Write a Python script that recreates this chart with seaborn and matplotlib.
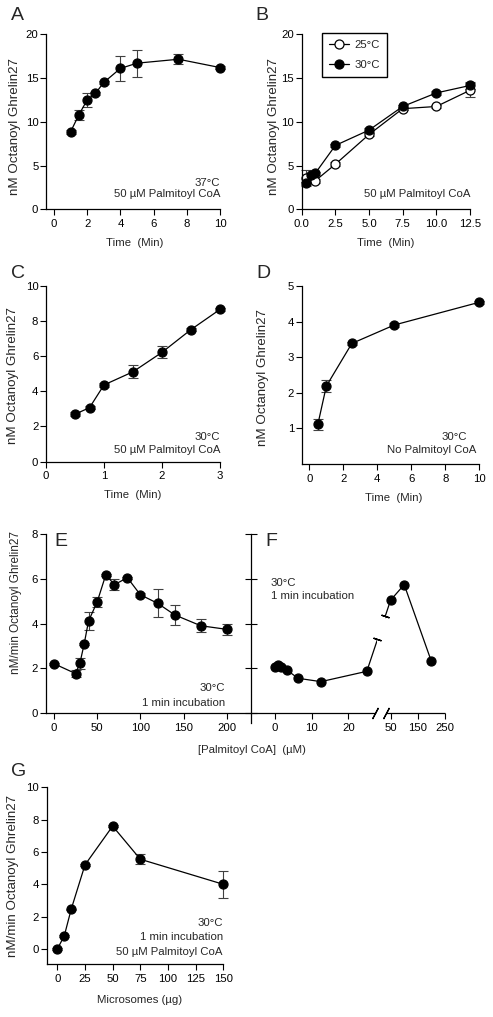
import numpy as np
import matplotlib
matplotlib.use("Agg")
import matplotlib.pyplot as plt
import seaborn as sns

sns.set_theme(style="ticks")
plt.rcParams["font.family"] = ["Liberation Sans", "DejaVu Sans"]

# ---- data ----
A_time = [1, 1.5, 2, 2.5, 3, 4, 5, 7.5, 10]
A_val = [8.85, 10.8, 12.5, 13.25, 14.5, 16.1, 16.7, 17.15, 16.2]
A_err = [0.2, 0.6, 0.8, 0.2, 0.2, 1.4, 1.55, 0.6, 0.2]

B_time_25 = [0.33, 1, 2.5, 5, 7.5, 10, 12.5]
B_val_25 = [3.6, 3.25, 5.15, 8.55, 11.5, 11.75, 13.6]
B_err_25 = [0.9, 0.2, 0.2, 0.2, 0.2, 0.2, 0.8]
B_time_30 = [0.33, 0.67, 1, 2.5, 5, 7.5, 10, 12.5]
B_val_30 = [2.95, 3.9, 4.1, 7.3, 9.05, 11.75, 13.3, 14.15]
B_err_30 = [0.2, 0.2, 0.2, 0.2, 0.2, 0.2, 0.2, 0.4]

C_time = [0.5, 0.75, 1, 1.5, 2, 2.5, 3]
C_val = [2.7, 3.07, 4.37, 5.12, 6.23, 7.53, 8.68]
C_err = [0.1, 0.1, 0.1, 0.38, 0.35, 0.1, 0.1]

D_time = [0.5, 1, 2.5, 5, 10]
D_val = [1.11, 2.19, 3.39, 3.91, 4.55]
D_err = [0.16, 0.16, 0.05, 0.05, 0.05]

E_conc = [0, 25, 30, 35, 40, 50, 60, 70, 85, 100, 120, 140, 170, 200]
E_val = [2.21, 1.77, 2.23, 3.1, 4.11, 4.96, 6.17, 5.73, 6.04, 5.28, 4.9, 4.38, 3.9, 3.74]
E_err = [0.05, 0.15, 0.25, 0.05, 0.39, 0.24, 0.05, 0.24, 0.05, 0.1, 0.63, 0.45, 0.28, 0.26]

F_conc = [0, 0.78, 1.56, 3.125, 6.25, 12.5, 25, 50, 100, 200]
F_val = [2.05, 2.14, 2.06, 1.94, 1.56, 1.41, 1.87, 5.04, 5.73, 2.31]

G_amount = [0, 6.25, 12.5, 25, 50, 75, 150]
G_val = [0, 0.8, 2.45, 5.2, 7.6, 5.55, 4.0]
G_err = [0.05, 0.05, 0.05, 0.05, 0.05, 0.32, 0.82]

ylab_nm = "nM Octanoyl Ghrelin27"
ylab_rate = "nM/min Octanoyl Ghrelin27"
xlab_time = "Time  (Min)"

# ---- figure helpers (pixel placement) ----
W, H = 493, 1017
fig = plt.figure(figsize=(W / 100, H / 100), dpi=100)

TXT = 8.2
TICK = 8.2
YLAB = 9.6

def add_ax(l, r, t, b):
    return fig.add_axes([l / W, 1 - b / H, (r - l) / W, (b - t) / H])

def ftext(x, y, s, **kw):
    kw.setdefault("fontsize", TXT)
    kw.setdefault("va", "center")
    fig.text(x / W, 1 - y / H, s, **kw)

def style(ax):
    for s in ["top", "right"]:
        ax.spines[s].set_visible(False)
    for s in ["left", "bottom"]:
        ax.spines[s].set_linewidth(0.9)
        ax.spines[s].set_color("black")
    ax.tick_params(direction="out", length=4, width=0.8, labelsize=TICK, colors="black")
    ax.tick_params(axis="x", pad=3)
    ax.tick_params(axis="y", pad=1.5)
    ax.set_facecolor("none")
    ax.grid(False)

def draw(ax, x, y, err=None, face="black", label=None, clip=False):
    if err is not None:
        ax.errorbar(x, y, yerr=err, fmt="none", ecolor="0.25", elinewidth=0.8,
                    capsize=3.5, capthick=0.8, zorder=1.5, clip_on=clip)
    sns.lineplot(x=x, y=y, ax=ax, color="black", linewidth=0.9, marker="o",
                 markersize=6.5, markerfacecolor=face, markeredgecolor="black",
                 markeredgewidth=0.9, label=label, legend=False, clip_on=clip)
    ax.set_xlabel("")
    ax.set_ylabel("")

# ---- A ----
ax = add_ax(46, 220, 34.3, 209.3)
style(ax)
draw(ax, A_time, A_val, A_err)
ax.set_xlim(-0.48, 10)
ax.set_ylim(0, 20)
ax.set_xticks(np.arange(0, 11, 2))
ax.set_yticks(np.arange(0, 21, 5))
ftext(220, 183, "37°C", ha="right")
ftext(220, 194, "50 µM Palmitoyl CoA", ha="right")
ftext(17, 15, "A", fontsize=14, ha="center")
ftext(135, 243, xlab_time, ha="center")
ftext(15, 127, ylab_nm, rotation=90, ha="center", fontsize=YLAB)

# ---- B ----
ax = add_ax(301.7, 470, 34.3, 209.3)
style(ax)
draw(ax, B_time_25, B_val_25, B_err_25, face="white", label="25°C")
draw(ax, B_time_30, B_val_30, B_err_30, face="black", label="30°C")
ax.set_xlim(0, 12.5)
ax.set_ylim(0, 20)
ax.set_xticks(np.arange(0, 12.6, 2.5))
ax.set_xticklabels(["0.0", "2.5", "5.0", "7.5", "10.0", "12.5"])
ax.set_yticks(np.arange(0, 21, 5))
leg = ax.legend(loc="upper left", bbox_to_anchor=(0.121, 1.007), borderaxespad=0,
                fontsize=TXT, handlelength=1.7, handletextpad=0.5, labelspacing=0.8,
                borderpad=0.65, fancybox=False, framealpha=1)
leg.get_frame().set_edgecolor("black")
leg.get_frame().set_linewidth(1.0)
ftext(470, 194, "50 µM Palmitoyl CoA", ha="right")
ftext(262, 15, "B", fontsize=14, ha="center")
ftext(386, 243, xlab_time, ha="center")
ftext(274.5, 127, ylab_nm, rotation=90, ha="center", fontsize=YLAB)

# ---- C ----
ax = add_ax(46, 220, 286.3, 461.5)
style(ax)
draw(ax, C_time, C_val, C_err)
ax.set_xlim(0, 3)
ax.set_ylim(0, 10)
ax.set_xticks([0, 1, 2, 3])
ax.set_yticks(np.arange(0, 11, 2))
ftext(220, 437, "30°C", ha="right")
ftext(220, 450, "50 µM Palmitoyl CoA", ha="right")
ftext(18, 274, "C", fontsize=14, ha="center")
ftext(133, 495, xlab_time, ha="center")
ftext(13, 376, ylab_nm, rotation=90, ha="center", fontsize=YLAB)

# ---- D ----
ax = add_ax(301.7, 479.3, 286.3, 463.8)
style(ax)
draw(ax, D_time, D_val, D_err)
ax.set_xlim(-0.45, 10)
ax.set_ylim(0, 5)
ax.set_xticks(np.arange(0, 11, 2))
ax.set_yticks([1, 2, 3, 4, 5])
ftext(466.7, 437, "30°C", ha="right")
ftext(476.7, 450, "No Palmitoyl CoA", ha="right")
ftext(263, 274, "D", fontsize=14, ha="center")
ftext(394, 498, xlab_time, ha="center")
ftext(263, 378, ylab_nm, rotation=90, ha="center", fontsize=YLAB)

# ---- E ----
ax = add_ax(45.7, 250.7, 533.7, 713.3)
style(ax)
draw(ax, E_conc, E_val, E_err)
ax.set_xlim(-9.6, 227.8)
ax.set_ylim(0, 8)
ax.set_xticks(np.arange(0, 201, 50))
ax.set_yticks(np.arange(0, 9, 2))
ftext(225, 688, "30°C", ha="right")
ftext(225, 703, "1 min incubation", ha="right")
ftext(61, 541, "E", fontsize=14, ha="center")
ftext(16.5, 603, ylab_rate, rotation=90, ha="center", fontsize=8.5)

# ---- F (broken x axis via piecewise-linear scale) ----
k = 0.0741

def f_fwd(x):
    x = np.asarray(x, float)
    return np.where(x <= 30, x, 30 + (x - 30) * k)

def f_inv(u):
    u = np.asarray(u, float)
    return np.where(u <= 30, u, 30 + (u - 30) / k)

axF = add_ax(250.7, 445, 533.7, 713.3)
style(axF)
axF.set_xscale("function", functions=(f_fwd, f_inv))
draw(axF, F_conc, F_val, clip=True)
axF.set_xlim(-6.63, 250)
axF.set_ylim(0, 8)
axF.set_xticks([0, 10, 20, 50, 150, 250])
axF.set_xticklabels(["0", "10", "20", "50", "150", "250"])
axF.minorticks_off()
axF.set_yticks(np.arange(0, 9, 2))
axF.tick_params(axis="y", direction="inout", length=8, labelleft=False)
axF.spines["left"].set_bounds(-0.45, 8)
axF.spines["bottom"].set_bounds(-6.63, 27.3)
axF.plot([34, 250], [0, 0], color="black", lw=0.9, clip_on=False, solid_capstyle="butt")
# gap in the data line and axis break marks
gap = [27.9, 31]
axF.axvspan(gap[0], gap[1], color="white", lw=0, zorder=2.3)
y_gap = np.interp(f_fwd(gap), f_fwd(F_conc), F_val)
p = axF.transData.transform(np.column_stack([F_conc[6:8], F_val[6:8]]))
ang = np.degrees(np.arctan2(p[1, 1] - p[0, 1], p[1, 0] - p[0, 0]))
axF.plot(gap, y_gap, ls="none", marker=(2, 2, ang), markersize=6, mew=1.0,
         color="black", zorder=3)
axF.plot([27.3, 34], [0, 0], ls="none", marker=(2, 2, -28), markersize=9, mew=0.9,
         color="black", clip_on=False, zorder=3)
ftext(271, 583, "30°C", ha="left")
ftext(271, 596, "1 min incubation", ha="left")
ftext(271, 541, "F", fontsize=14, ha="center")
ftext(251.5, 750, "[Palmitoyl CoA]  (µM)", ha="center")

# ---- G ----
ax = add_ax(46.7, 223.3, 787.3, 964)
style(ax)
draw(ax, G_amount, G_val, G_err)
ax.set_xlim(-9.6, 150)
ax.set_ylim(-0.93, 10)
ax.set_xticks(np.arange(0, 151, 25))
ax.set_yticks(np.arange(0, 11, 2))
ftext(222.7, 923, "30°C", ha="right")
ftext(222.7, 937, "1 min incubation", ha="right")
ftext(222.7, 952, "50 µM Palmitoyl CoA", ha="right")
ftext(18.5, 772, "G", fontsize=14, ha="center")
ftext(140, 1000, "Microsomes (µg)", ha="center")
ftext(12.7, 876, ylab_rate, rotation=90, ha="center", fontsize=YLAB)

fig.savefig("out.png", dpi=100, facecolor="white")
